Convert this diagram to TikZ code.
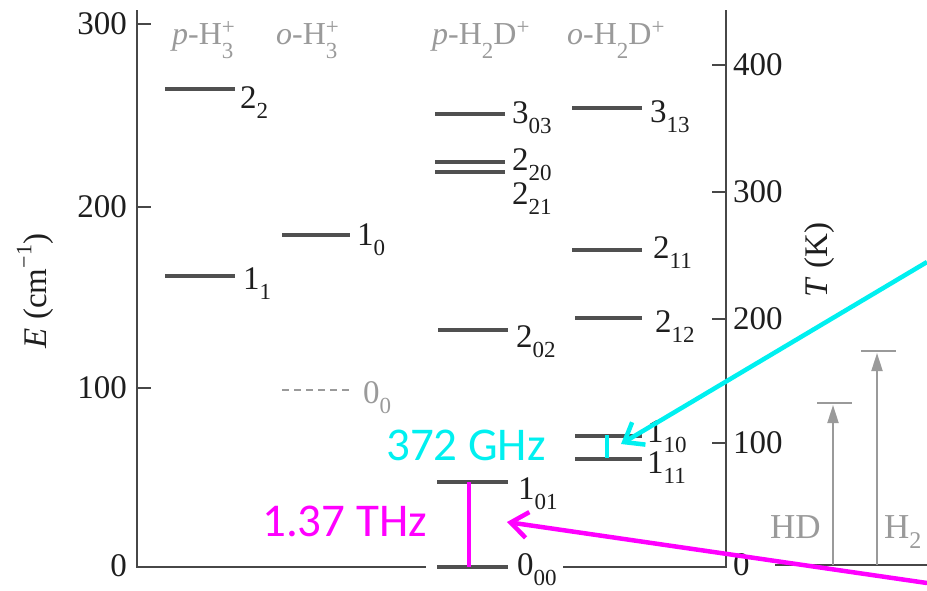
\documentclass[tikz,border=0pt]{standalone}
\usepackage{fontspec}
\setmainfont{Liberation Serif}
\newfontfamily\calib{Carlito}
\usetikzlibrary{arrows.meta}
\definecolor{lvl}{HTML}{505050}
\definecolor{axc}{HTML}{474747}
\definecolor{hdr}{HTML}{9A9A9A}
\definecolor{cyanA}{HTML}{00F0F0}
\definecolor{magA}{HTML}{FF00FF}
\definecolor{txt}{HTML}{1E1E1E}
\newcommand\lv[2]{#1\raisebox{-0.33em}{\fontsize{23}{23}\selectfont #2}}
\newcommand\smallsz{\fontsize{23}{23}\selectfont}
\newcommand\hsubsup[2]{\makebox[0pt][l]{\raisebox{0.3em}{\smallsz #2}}\raisebox{-0.45em}{\smallsz #1}}
\begin{document}
\begin{tikzpicture}[x=1pt,y=-1pt,
  level/.style={draw=lvl,line width=3.2pt},
  axisline/.style={draw=axc,line width=2.5pt},
  tick/.style={draw=axc,line width=2pt},
  lab/.style={anchor=base west,inner sep=0pt,font=\fontsize{33}{33}\selectfont,text=txt},
  graylab/.style={lab,text=hdr},
  ticklab/.style={inner sep=0pt,font=\fontsize{33}{33}\selectfont,text=txt},
  hdrlab/.style={anchor=base west,inner sep=0pt,font=\fontsize{32}{32}\selectfont,text=hdr},
  freq/.style={anchor=west,inner sep=0pt,font=\calib\fontsize{47}{47}\selectfont},
  bigarrow/.style={line width=4.5pt,-{Straight Barb[length=17pt,width=26pt,line width=4.5pt]}},
  grayarrow/.style={draw=hdr,line width=2pt,-{Triangle[length=18pt,width=11pt]}},
  graybar/.style={draw=hdr,line width=1.8pt}
]
\useasboundingbox (0,0) rectangle (927,590);

% axes
\draw[axisline] (137,10) -- (137,567) -- (426,567);
\draw[axisline] (563,567) -- (726,567) -- (726,10);
\draw[axisline] (775,565) -- (927,565);
% ticks
\foreach \yy in {24,207,388} \draw[tick] (137,\yy) -- (151,\yy);
\foreach \yy in {65,192,319,443} \draw[tick] (712,\yy) -- (726,\yy);

% left tick labels
\node[ticklab,anchor=east] (l300) at (127,24) {300};
\node[ticklab,anchor=east] (l200) at (127,207) {200};
\node[ticklab,anchor=east] (l100) at (127,388) {100};
\node[ticklab,anchor=east] (l0) at (127,566) {0};
% right tick labels
\node[ticklab,anchor=west] (r400) at (733,65) {400};
\node[ticklab,anchor=west] (r300) at (733,192) {300};
\node[ticklab,anchor=west] (r200) at (733,319) {200};
\node[ticklab,anchor=west] (r100) at (733,443) {100};
\node[ticklab,anchor=west] (r0) at (733,565) {0};

% axis titles
\node[rotate=90,inner sep=0pt,font=\fontsize{33}{33}\selectfont,text=txt] (Elab) at (35,291)
  {\textit{E} (cm\raisebox{0.45em}{\fontsize{22}{22}\selectfont −1})};
\node[rotate=90,inner sep=0pt,font=\fontsize{33}{33}\selectfont,text=txt] (Tlab) at (820,260)
  {\textit{T} (K)};

% headers
\node[hdrlab] (h1) at (172,44) {\textit{p}-H\hsubsup{3}{+}};
\node[hdrlab] (h2) at (276,44) {\textit{o}-H\hsubsup{3}{+}};
\node[hdrlab] (h3) at (432,44) {\textit{p}-H\raisebox{-0.45em}{\smallsz 2}D\raisebox{0.3em}{\smallsz +}};
\node[hdrlab] (h4) at (567,44) {\textit{o}-H\raisebox{-0.45em}{\smallsz 2}D\raisebox{0.3em}{\smallsz +}};

% p-H3+ levels
\draw[level] (165,89) -- (235,89);
\node[lab] (n22) at (240,108) {\lv{2}{2}};
\draw[level] (165,276) -- (235,276);
\node[lab] (n11) at (243,289) {\lv{1}{1}};
% o-H3+ levels
\draw[level] (282,235) -- (350,235);
\node[lab] (n10) at (357,245) {\lv{1}{0}};
\draw[draw=hdr,line width=2.2pt,dash pattern=on 7pt off 5pt] (282,390) -- (350,390);
\node[graylab] (n00) at (363,403) {\lv{0}{0}};

% p-H2D+ levels
\draw[level] (435,114) -- (505,114);
\node[lab] (n303) at (512,123) {\lv{3}{03}};
\draw[level] (435,162) -- (505,162);
\draw[level] (435,172) -- (505,172);
\node[lab] (n220) at (512,170) {\lv{2}{20}};
\node[lab] (n221) at (512,204) {\lv{2}{21}};
\draw[level] (438,330) -- (508,330);
\node[lab] (n202) at (516,347) {\lv{2}{02}};
\draw[level] (437,482) -- (508,482);
\node[lab] (n101) at (518,499) {\lv{1}{01}};
\draw[level] (437,567) -- (508,567);
\node[lab] (n000) at (517,575) {\lv{0}{00}};

% o-H2D+ levels
\draw[level] (572,108) -- (642,108);
\node[lab] (n313) at (650,122) {\lv{3}{13}};
\draw[level] (572,250) -- (642,250);
\node[lab] (n211) at (653,258) {\lv{2}{11}};
\draw[level] (575,318) -- (642,318);
\node[lab] (n212) at (655,332) {\lv{2}{12}};
\draw[level] (575,436) -- (642,436);
\node[lab] (n110) at (647,442) {\lv{1}{10}};
\draw[level] (575,459) -- (642,459);
\node[lab] (n111) at (647,473) {\lv{1}{11}};

% HD / H2
\draw[grayarrow] (833,565) -- (833,405);
\draw[graybar] (817,403) -- (852,403);
\draw[grayarrow] (877,565) -- (877,353);
\draw[graybar] (861,351) -- (896,351);
\node[graylab,font=\fontsize{35}{35}\selectfont] (hd) at (770,538) {HD};
\node[graylab,font=\fontsize{35}{35}\selectfont] (h2lab) at (884,538) {H\raisebox{-0.3em}{\fontsize{24}{24}\selectfont 2}};

% transitions
\draw[magA,line width=4.5pt] (469,482) -- (469,567);
\draw[cyanA,line width=4.5pt] (607,435) -- (607,458);
\node[freq,text=cyanA] (f372) at (386,445) {372 GHz};
\node[freq,text=magA] (f137) at (262,521) {1.37 THz};

% arrows
\coordinate (cs) at (927,262);
\coordinate (ct) at (621,444);
\draw[bigarrow,cyanA] (cs) -- (ct);
\coordinate (ms) at (927,583);
\coordinate (mt) at (507,522);
\draw[bigarrow,magA] (ms) -- (mt);
\end{tikzpicture}
\end{document}
